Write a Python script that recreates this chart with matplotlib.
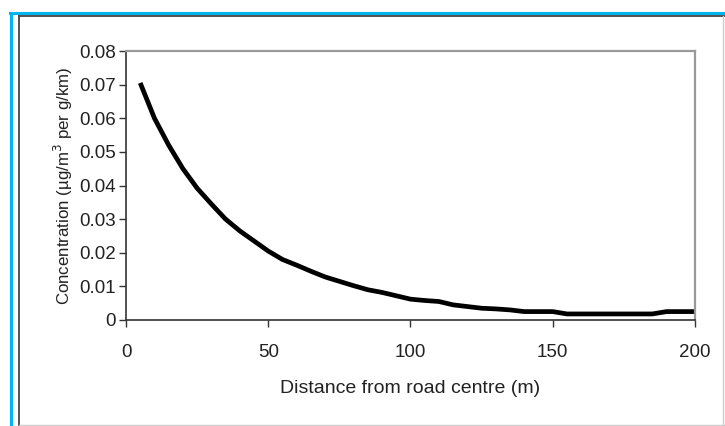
import matplotlib
matplotlib.use('Agg')
import matplotlib.pyplot as plt
from matplotlib.lines import Line2D

plt.rcParams['font.family'] = ['Liberation Sans', 'DejaVu Sans']

# distance from road centre (m) and concentration (ug/m3 per g/km)
distance = [5, 10, 15, 20, 25, 30, 35, 40, 45, 50,
            55, 60, 65, 70, 75, 80, 85, 90, 95, 100,
            105, 110, 115, 120, 125, 130, 135, 140, 145, 150,
            155, 160, 165, 170, 175, 180, 185, 190, 195, 200]
concentration = [0.0705, 0.0600, 0.0520, 0.0450, 0.0392, 0.0345, 0.0300, 0.0265, 0.0235, 0.0205,
                 0.0180, 0.0163, 0.0145, 0.0128, 0.0115, 0.0102, 0.0090, 0.0082, 0.0072, 0.0062,
                 0.0058, 0.0055, 0.0045, 0.0040, 0.0035, 0.0033, 0.0030, 0.0025, 0.0025, 0.0025,
                 0.0018, 0.0018, 0.0018, 0.0018, 0.0018, 0.0018, 0.0018, 0.0025, 0.0025, 0.0025]
xticks = [0, 50, 100, 150, 200]
yticks = [0, 0.01, 0.02, 0.03, 0.04, 0.05, 0.06, 0.07, 0.08]

W, H = 725, 426
fig = plt.figure(figsize=(W / 100, H / 100), dpi=100)

def frame_line(x0, y0, x1, y1, color, lw):
    # pixel coords, origin top-left
    fig.add_artist(Line2D([x0 / W, x1 / W], [1 - y0 / H, 1 - y1 / H],
                          transform=fig.transFigure, color=color, lw=lw))

frame_line(10, 12.5, W, 12.5, '#00b4f0', 2.2)
frame_line(11.3, 12.5, 11.3, H, '#00b4f0', 2.2)
frame_line(18.5, 15.5, W, 15.5, '#444444', 1.3)
frame_line(18.8, 15.5, 18.8, H, '#444444', 1.3)
frame_line(18.5, 424.5, W, 424.5, '#cccccc', 1.0)
frame_line(723, 15.5, 723, H, '#cccccc', 1.0)

ax = fig.add_axes([126 / W, 1 - 320 / H, (695 - 126) / W, (320 - 51) / H])
ax.plot(distance, concentration, color='black', lw=3.4, solid_capstyle='butt')
ax.set_xlim(0, 200)
ax.set_ylim(0, 0.08)
ax.set_xticks(xticks)
ax.set_xticklabels([str(t) for t in xticks])
ax.set_yticks(yticks)
ax.set_yticklabels(['0'] + [f'{t:.2f}' for t in yticks[1:]])
ax.tick_params(direction='out', length=5, width=1, color='#333333',
               labelsize=13.5, labelcolor='#222222', pad=2.5)
ax.tick_params(axis='x', pad=12)
for side in ['left', 'bottom']:
    ax.spines[side].set_color('#333333')
    ax.spines[side].set_linewidth(1.2)
for side in ['top', 'right']:
    ax.spines[side].set_color('#999999')
    ax.spines[side].set_linewidth(1.6)
ax.set_xlabel('Distance from road centre (m)', fontsize=14, color='#222222', labelpad=14)
ax.set_ylabel('Concentration (µg/m$^3$ per g/km)', fontsize=12.2, color='#222222', labelpad=3)

fig.savefig('out.png', dpi=100)
